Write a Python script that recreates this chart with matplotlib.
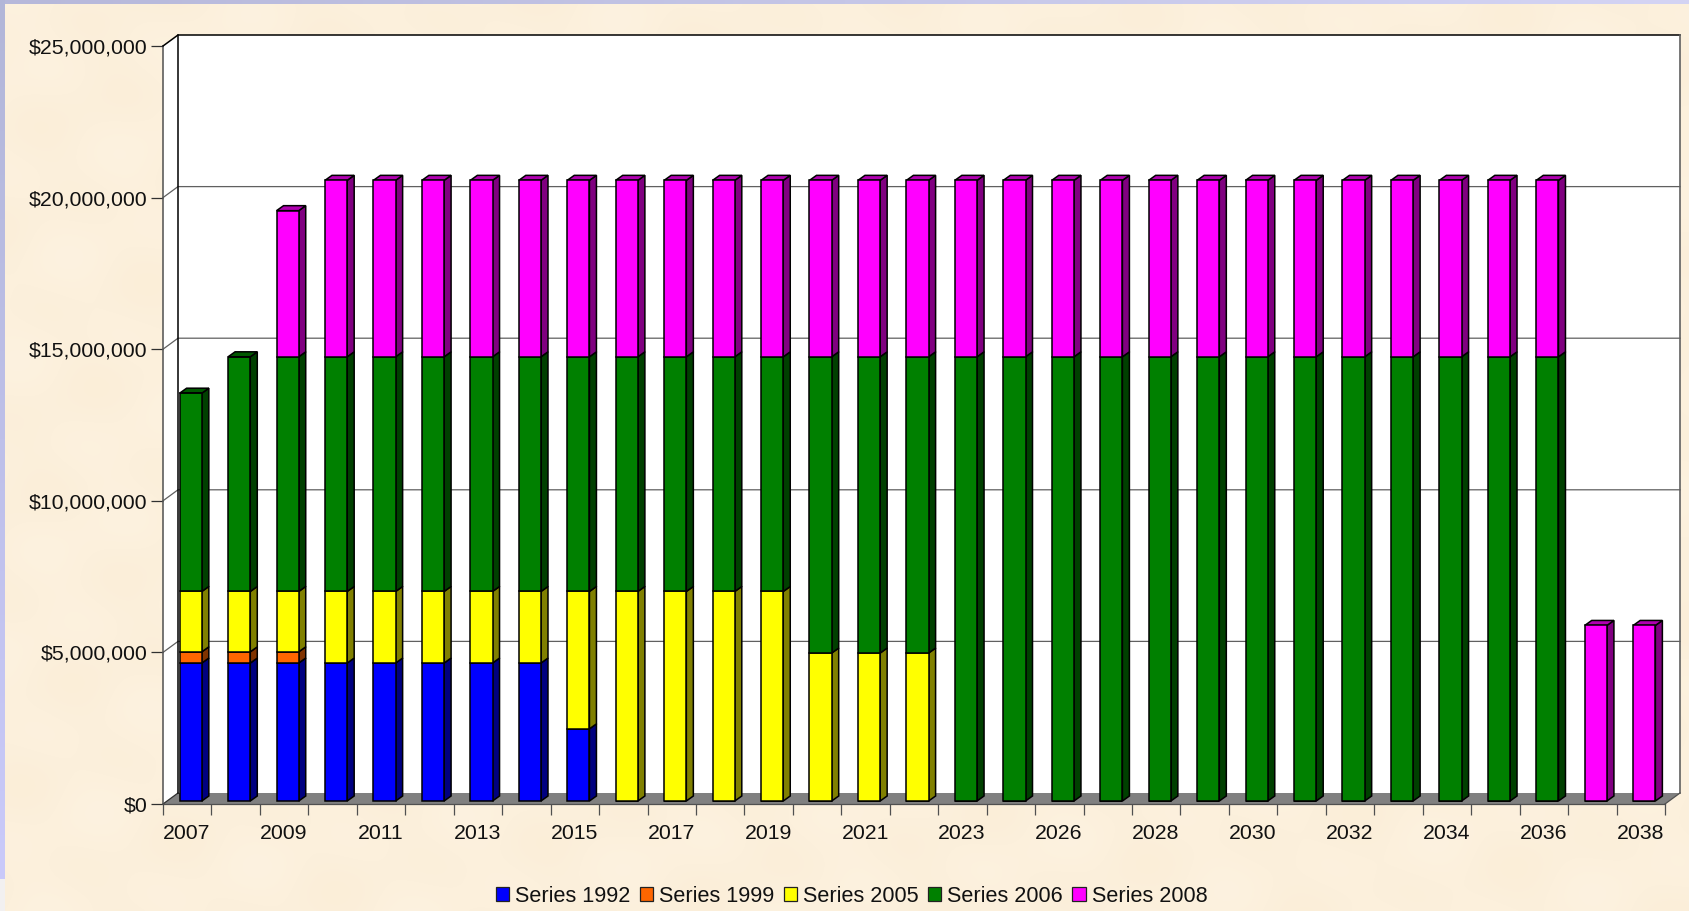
import numpy as np
import matplotlib
matplotlib.use("Agg")
import matplotlib.pyplot as plt
from matplotlib.patches import Patch, Polygon
from matplotlib.ticker import FuncFormatter
from matplotlib.transforms import ScaledTranslation

W, H = 1690, 912
plt.rcParams['font.family'] = ['Liberation Sans', 'DejaVu Sans']

# ---- data (millions of dollars per year) ----
years = [2007, 2008, 2009, 2010, 2011, 2012, 2013, 2014, 2015, 2016, 2017,
         2018, 2019, 2020, 2021, 2022, 2023, 2025, 2026, 2027, 2028, 2029,
         2030, 2031, 2032, 2033, 2034, 2035, 2036, 2037, 2038]
series_1992 = [4.55] * 8 + [2.38] + [0] * 22
series_1999 = [0.37] * 3 + [0] * 28
series_2005 = [1.99] * 3 + [2.36] * 5 + [4.53] + [6.91] * 4 + [4.88] * 3 + [0] * 15
series_2006 = [6.54] + [7.74] * 12 + [9.77] * 3 + [14.65] * 13 + [0] * 2
series_2008 = [0, 0, 4.82] + [5.82] * 26 + [5.79] * 2
series_names = ['Series 1992', 'Series 1999', 'Series 2005', 'Series 2006', 'Series 2008']
series_values = [series_1992, series_1999, series_2005, series_2006, series_2008]
front_colors = ['#0000FF', '#FF6600', '#FFFF00', '#008000', '#FF00FF']
side_colors = ['#000080', '#803300', '#808000', '#004000', '#800080']
top_colors = ['#0000B0', '#B04800', '#B0B000', '#005800', '#B000B0']

# ---- figure and background ----
fig = plt.figure(figsize=(W / 100, H / 100), dpi=100)
bg = fig.add_axes([0, 0, 1, 1], zorder=0)
bg.axis('off')
yy, xx = np.mgrid[0:H, 0:W]
mottle = (np.sin(xx / 31 + yy / 47) + np.sin(xx / 19 - yy / 27 + 1.3)
          + np.sin(xx / 57 + yy / 15 + 2.1)) / 3
tex = np.dstack([252 + 1 * mottle, 240 + 2 * mottle, 220 + 3.5 * mottle])
# lavender slide edge along the top and left
t = xx / W
edge_top = np.dstack([182 + 30 * t, 184 + 28 * t, 218 + 26 * t])
s = yy / 880
edge_left = np.dstack([178 + 24 * s, 182 + 20 * s, 216 + 34 * s])
tex[:5] = edge_top[:5]
tex[:880, :5] = edge_left[:880, :5]
tex[880:, :5] = [242, 240, 240]
bg.imshow(tex / 255, extent=[0, W, H, 0], aspect='auto', interpolation='nearest')

# ---- main axes: the front plane of the 3-D box ----
L, R, B, T = 163, 1665, 805, 47
ax = fig.add_axes([L / W, 1 - B / H, (R - L) / W, (B - T) / H], zorder=1)
n = len(years)
ymax = 25.0
ax.set_xlim(0, n)
ax.set_ylim(0, ymax)
ax.patch.set_alpha(0)
for sp in ax.spines.values():
    sp.set_visible(False)

px = n / (R - L)           # data units per pixel, x
py = ymax / (B - T)        # data units per pixel, y
wall_dx, wall_dy = 15 * px, 11 * py
bar_dx, bar_dy = 7 * px, 5 * py
off_x, off_y = 3.5 * px, 3 * py
bar_w = 22.2 * px
GREY = '#808080'
LW = 1.1


def poly(pts, fc, ec='black', lw=LW, z=3):
    ax.add_patch(Polygon(pts, closed=True, facecolor=fc, edgecolor=ec, linewidth=lw,
                         joinstyle='miter', clip_on=False, zorder=z))


# walls and floor
poly([(wall_dx, wall_dy), (n + wall_dx, wall_dy), (n + wall_dx, ymax + wall_dy),
      (wall_dx, ymax + wall_dy)], 'white', ec='none', z=1)
poly([(0, 0), (wall_dx, wall_dy), (wall_dx, ymax + wall_dy), (0, ymax)], 'white', ec='none', z=1)
poly([(0, 0), (n, 0), (n + wall_dx, wall_dy), (wall_dx, wall_dy)], GREY, ec='none', z=1.5)

for v in [5, 10, 15, 20]:
    ax.plot([0, wall_dx, n + wall_dx], [v, v + wall_dy, v + wall_dy], color='#606060',
            lw=0.9, clip_on=False, zorder=2)
ax.plot([0, wall_dx], [0, wall_dy], color='#303030', lw=0.9, clip_on=False, zorder=2)
ax.plot([0, 0], [0, ymax], color='#505050', lw=1.1, clip_on=False, zorder=2)
ax.plot([0, n], [0, 0], color='#505050', lw=0.9, clip_on=False, zorder=2)
ax.plot([0, wall_dx, n + wall_dx], [ymax, ymax + wall_dy, ymax + wall_dy], color='black',
        lw=1.1, clip_on=False, zorder=2)
ax.plot([wall_dx, wall_dx], [wall_dy, ymax + wall_dy], color='black', lw=1.1, clip_on=False, zorder=2)
ax.plot([n + wall_dx, n + wall_dx], [wall_dy, ymax + wall_dy], color='#606060', lw=1.2, clip_on=False, zorder=2)
ax.plot([n, n + wall_dx], [0, wall_dy], color='#505050', lw=0.9, clip_on=False, zorder=2)

# stacked bars
x_pos = np.arange(n) + 0.5 + off_x
cum = np.zeros(n) + off_y
for vals, fc, sc, tc in zip(series_values, front_colors, side_colors, top_colors):
    vals = np.array(vals, dtype=float)
    ax.bar(x_pos, vals, bar_w, bottom=cum, color=fc, edgecolor='black', linewidth=LW,
           zorder=4, clip_on=False)
    for x0, b, v in zip(x_pos, cum, vals):
        if v <= 0:
            continue
        xr = x0 + bar_w / 2
        poly([(xr, b), (xr + bar_dx, b + bar_dy), (xr + bar_dx, b + v + bar_dy), (xr, b + v)], sc)
    cum = cum + vals

# top caps, on the topmost segment of each bar
for i, top in enumerate(cum):
    k = max(j for j in range(5) if series_values[j][i] > 0)
    xl, xr = x_pos[i] - bar_w / 2, x_pos[i] + bar_w / 2
    poly([(xl, top), (xr, top), (xr + bar_dx, top + bar_dy), (xl + bar_dx, top + bar_dy)],
         top_colors[k])

# ticks and labels
FS = 15.3
ax.set_yticks([0, 5, 10, 15, 20, 25])
ax.yaxis.set_major_formatter(FuncFormatter(lambda v, _: f"${int(v * 1e6):,}"))
ax.tick_params(axis='y', length=8.6, width=0.9, color='#303030', pad=2.5, labelsize=FS,
               labelcolor='#111111')
up = ScaledTranslation(0, 1.0 / 100, fig.dpi_scale_trans)
for lab in ax.get_yticklabels():
    lab.set_transform(lab.get_transform() + up)
ax.set_xticks(np.arange(n + 1))
ax.set_xticklabels([])
ax.tick_params(axis='x', which='major', length=8.2, width=0.9, color='#505050')
ax.set_xticks(np.arange(0, n, 2) + 0.5 - 0.01, minor=True)
ax.set_xticklabels([str(years[i]) for i in range(0, n, 2)], minor=True)
ax.tick_params(axis='x', which='minor', length=0, pad=14, labelsize=FS, labelcolor='#111111')

# legend
handles = [Patch(facecolor=c, edgecolor='#222222', linewidth=0.9, label=nm)
           for c, nm in zip(front_colors, series_names)]
fig.legend(handles=handles, ncol=5, loc='center', bbox_to_anchor=(0.504, 1 - 897 / H),
           frameon=False, fontsize=15.6, handlelength=0.62, handleheight=0.62,
           handletextpad=0.28, columnspacing=0.42, labelcolor='#111111', borderpad=0)

fig.savefig('out.png', dpi=100)
